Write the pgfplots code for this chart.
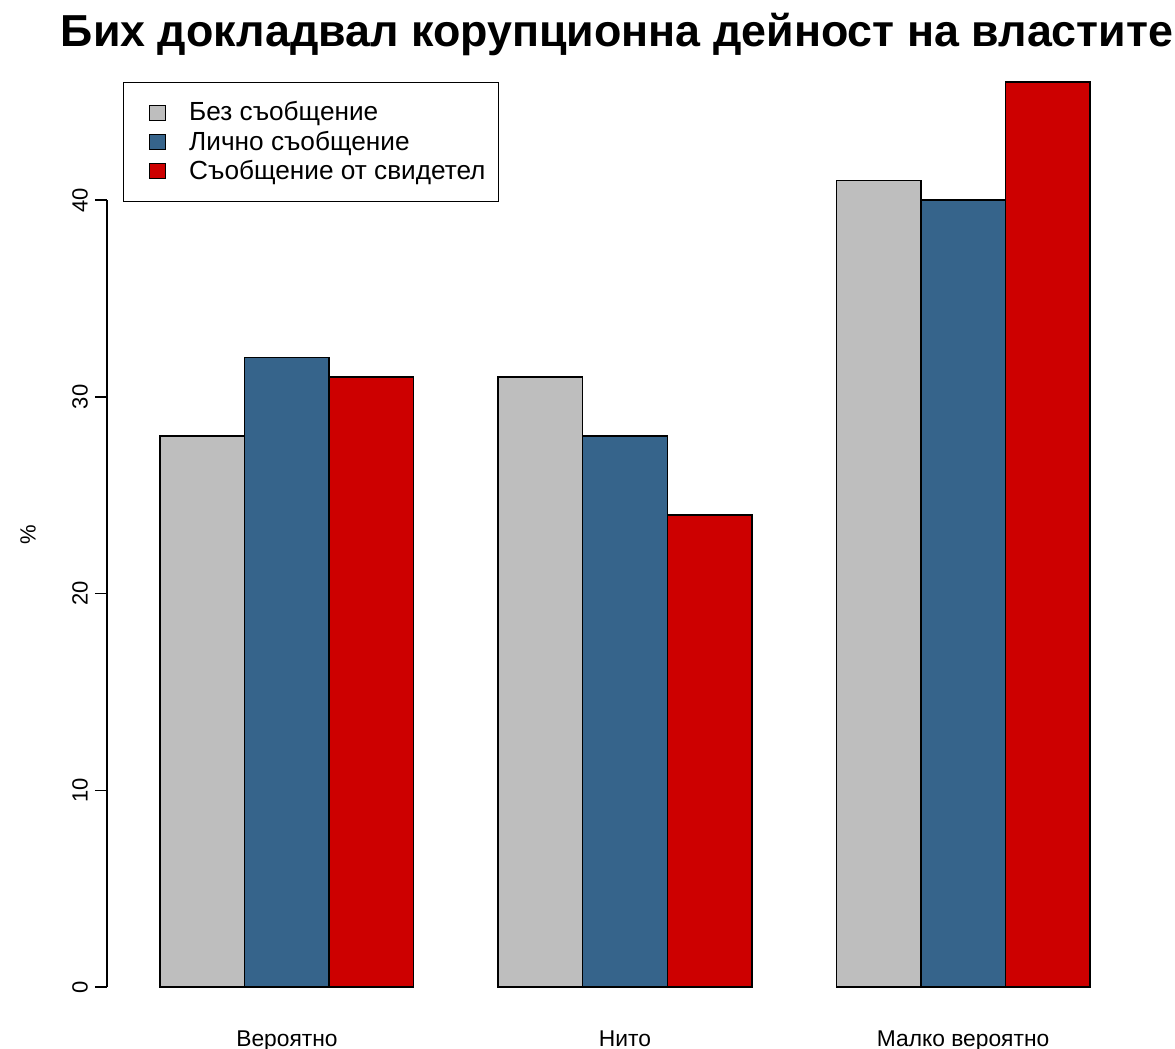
\documentclass[border=0pt]{standalone}
\usepackage{pgfplots}
\pgfplotsset{compat=1.18}
\usepackage{fontspec}
\setmainfont{Liberation Sans}
\definecolor{cgrey}{RGB}{190,190,190}
\definecolor{cblue}{RGB}{54,100,139}
\definecolor{cred}{RGB}{205,0,0}
\begin{document}
\begin{tikzpicture}
  \begin{axis}[
    at={(61.5pt,31pt)}, anchor=south west,
    scale only axis, width=502pt, height=452.5pt,
    xmin=0.56, xmax=12.44, ymin=0, ymax=46,
    clip=false,
    separate axis lines,
    axis x line*=bottom, axis y line*=left,
    axis y line shift=8pt,
    x axis line style={draw=none},
    y axis line style={-, line width=0.75pt, shorten >=59pt},
    xtick={2.5,6.5,10.5},
    xticklabels={Вероятно,Нито,Малко вероятно},
    xtick style={draw=none},
    xticklabel style={yshift=-12.5pt, font=\fontsize{11.4}{13}\selectfont},
    ytick={0,10,20,30,40},
    tick align=outside, major tick length=6pt,
    ytick style={line width=0.75pt, black},
    yticklabel style={rotate=90, anchor=south, font=\fontsize{11}{13}\selectfont},
    /pgf/number format/assume math mode=true,
    ylabel={\%},
    every axis y label/.style={at={(axis description cs:-0.0946,0.5)}, anchor=center, rotate=90, font=\fontsize{11}{13}\selectfont},
    legend cell align=left,
    legend style={at={(axis description cs:0,1)}, anchor=north west,
      draw=black, line width=0.75pt, font=\fontsize{13.1}{15}\selectfont,
      row sep=-0.5pt, inner xsep=4.5pt, inner ysep=7.5pt},
    legend image code/.code={\draw[#1, draw=black, line width=0.6pt] (8pt,-3.7pt) rectangle (16pt,3.7pt);
      \path (0pt,0pt) (25.5pt,0pt);},
    ]
    \addplot[ybar, bar width=1, bar shift=0pt, fill=cgrey, draw=black, line width=0.75pt]
      coordinates {(1.5,28) (5.5,31) (9.5,41)};
    \addplot[ybar, bar width=1, bar shift=0pt, fill=cblue, draw=black, line width=0.75pt]
      coordinates {(2.5,32) (6.5,28) (10.5,40)};
    \addplot[ybar, bar width=1, bar shift=0pt, fill=cred, draw=black, line width=0.75pt]
      coordinates {(3.5,31) (7.5,24) (11.5,46)};
    \legend{Без съобщение, Лично съобщение, Съобщение от свидетел}
  \end{axis}
  \node[anchor=base, font=\fontsize{22.4}{26}\bfseries] at (308.5pt,501pt)
    {Бих докладвал корупционна дейност на властите};
  \pgfresetboundingbox
  \useasboundingbox (0,0) rectangle (587.5pt,524.5pt);
\end{tikzpicture}
\end{document}
